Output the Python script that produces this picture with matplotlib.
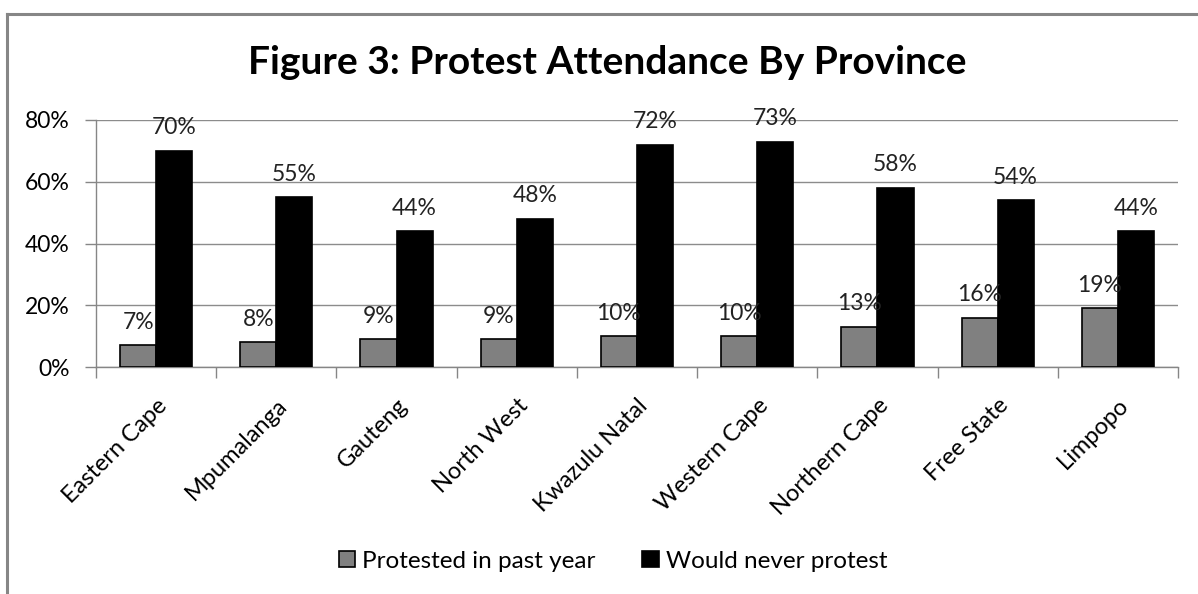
import numpy as np
import matplotlib
matplotlib.use("Agg")
import matplotlib.pyplot as plt
from matplotlib.lines import Line2D

plt.rcParams['font.family'] = ['Lato', 'DejaVu Sans']

provinces = ["Eastern Cape", "Mpumalanga", "Gauteng", "North West", "Kwazulu Natal",
             "Western Cape", "Northern Cape", "Free State", "Limpopo"]
protested = [7, 8, 9, 9, 10, 10, 13, 16, 19]
never_protest = [70, 55, 44, 48, 72, 73, 58, 54, 44]
series_names = ["Protested in past year", "Would never protest"]
y_ticks = [0, 20, 40, 60, 80]

fig = plt.figure(figsize=(11.98, 5.94), dpi=100)
ax = fig.add_axes([96 / 1198, 1 - 367 / 594, (1178 - 96) / 1198, (367 - 120) / 594])

# outer chart frame (only top and left edges fall inside the image)
grey = "#868686"
fig.add_artist(Line2D([7 / 1198, 1.0], [1 - 14 / 594, 1 - 14 / 594], color=grey, lw=2.2,
                      transform=fig.transFigure))
fig.add_artist(Line2D([7 / 1198, 7 / 1198], [0, 1 - 14 / 594], color=grey, lw=2.2,
                      transform=fig.transFigure))

x = np.arange(len(provinces))
w = 0.3
b1 = ax.bar(x - w / 2, protested, w, color="#808080", edgecolor="black", linewidth=1.2,
            label=series_names[0], zorder=3)
b2 = ax.bar(x + w / 2, never_protest, w, color="black", edgecolor="black", linewidth=1.2,
            label=series_names[1], zorder=3)

for bars, vals in ((b1, protested), (b2, never_protest)):
    for rect, v in zip(bars, vals):
        ax.annotate(f"{v}%", (rect.get_x() + rect.get_width() / 2, v),
                    xytext=(0, 9), textcoords="offset points", ha="center", va="bottom",
                    fontsize=16.5, color="#222222", zorder=4)

ax.set_xlim(-0.5, len(provinces) - 0.5)
ax.set_ylim(0, 80)
ax.set_yticks(y_ticks)
ax.set_yticklabels([f"{t}%" for t in y_ticks], fontsize=16.5)
ax.yaxis.grid(True, color="#8c8c8c", lw=1, zorder=0)

ax.set_xticks(x)
ax.set_xticklabels(provinces, rotation=45, ha="right", rotation_mode="anchor", fontsize=17)
ax.set_xticks(np.arange(len(provinces) + 1) - 0.5, minor=True)
ax.tick_params(axis="x", which="major", length=0, pad=20)
ax.tick_params(axis="x", which="minor", length=8, color=grey, width=1)
ax.tick_params(axis="y", length=8, color=grey, width=1, pad=11)

for side in ("top", "right"):
    ax.spines[side].set_visible(False)
for side in ("left", "bottom"):
    ax.spines[side].set_color(grey)
    ax.spines[side].set_linewidth(1)

fig.text(607 / 1198, 1 - 62 / 594, "Figure 3: Protest Attendance By Province",
         ha="center", va="center", fontsize=28, fontweight="bold")

fig.legend(handles=[b1, b2], labels=series_names, loc="center", ncol=2,
           bbox_to_anchor=(613 / 1198, 1 - 561 / 594), frameon=False, fontsize=17.5,
           handlelength=0.68, handleheight=0.68, handletextpad=0.3, columnspacing=1.9)

fig.savefig("out.png", dpi=100, facecolor="white")
